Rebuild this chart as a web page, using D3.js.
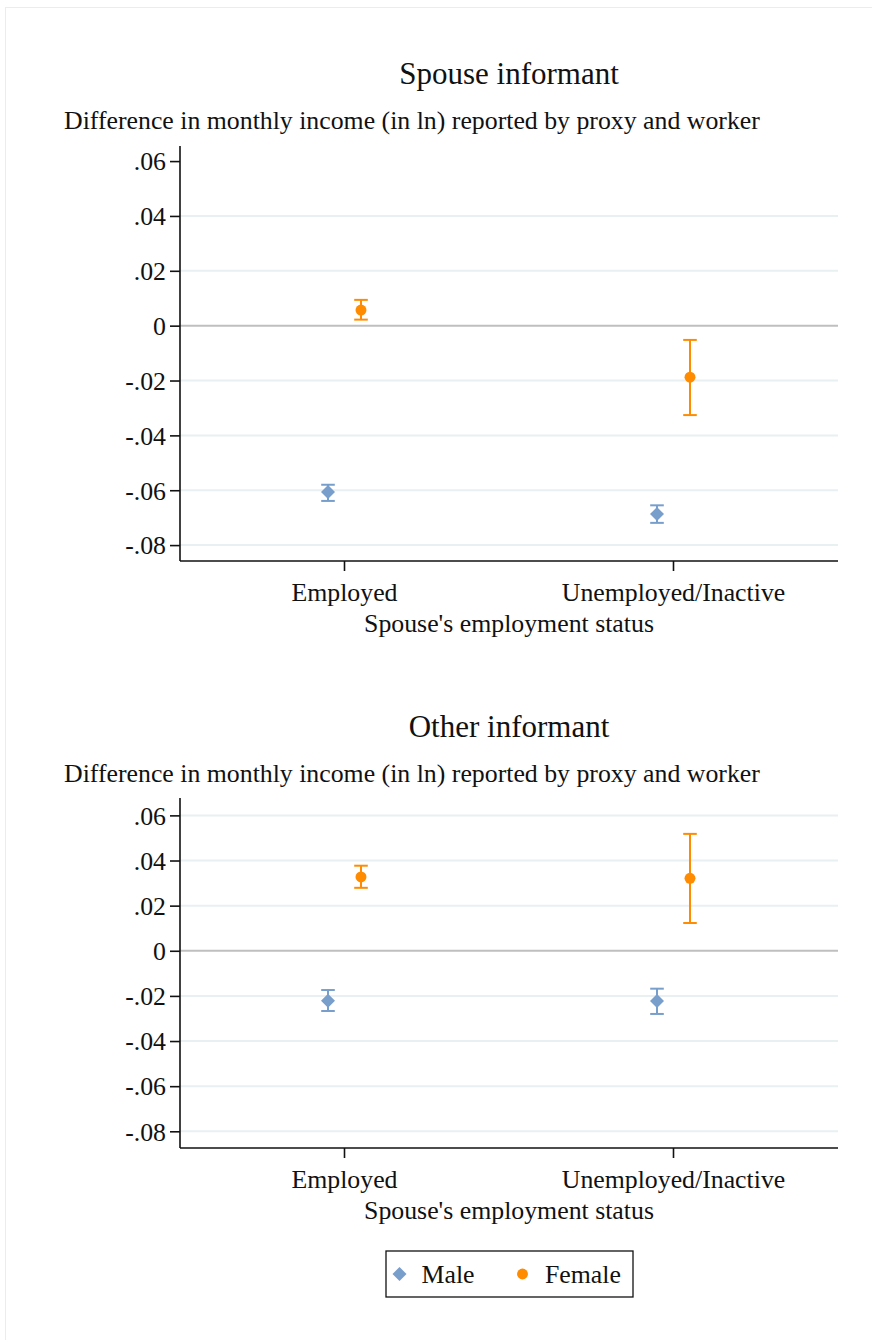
<!DOCTYPE html>
<html>
<head>
<meta charset="utf-8">
<script src="https://cdn.jsdelivr.net/npm/d3@7"></script>
<style>
  body { margin: 0; background: #fff; }
  svg text { font-family: "Liberation Serif", "Times New Roman", serif; fill: #111; }
</style>
</head>
<body>
<div id="chart"></div>
<script>
// categories and series
const categories = ['Employed', 'Unemployed/Inactive'];
const seriesNames = ['Male', 'Female'];
const yTicks = [0.06, 0.04, 0.02, 0, -0.02, -0.04, -0.06, -0.08];

// Spouse informant: point estimate, lower, upper
const spouseMale   = [[-0.0606, -0.0639, -0.0580], [-0.0687, -0.0719, -0.0655]];
const spouseFemale = [[0.0057, 0.0022, 0.0094], [-0.0188, -0.0326, -0.0052]];

// Other informant
const otherMale   = [[-0.0222, -0.0267, -0.0174], [-0.0223, -0.0280, -0.0168]];
const otherFemale = [[0.0327, 0.0279, 0.0377], [0.0321, 0.0123, 0.0518]];

const W = 872, H = 1340;
const colors = { Male: '#789ecc', Female: '#ff8c00' };
const gridColor = '#e8f0f2';
const xLeft = 180, xRight = 838;
const fs = '25.8px';
const yTitle = 'Difference in monthly income (in ln) reported by proxy and worker';
const xTitle = "Spouse's employment status";

const svg = d3.select('#chart').append('svg').attr('width', W).attr('height', H);
svg.append('rect').attr('x', 5.5).attr('y', 7.5).attr('width', W).attr('height', H)
  .attr('fill', 'none').attr('stroke', '#ececec');

const panels = [
  { title: 'Spouse informant', titleY: 84, yTitleY: 129, top: 146, bottom: 561,
    domain: [-0.0858, 0.0655], male: spouseMale, female: spouseFemale, skipTop: true },
  { title: 'Other informant', titleY: 737, yTitleY: 782, top: 798, bottom: 1148,
    domain: [-0.0874, 0.0677], male: otherMale, female: otherFemale, skipTop: false }
];

const fmt = v => v === 0 ? '0' : (v < 0 ? '-' : '') + d3.format('.2f')(Math.abs(v)).replace(/^0\./, '.');

// marker shapes
const diamond = d3.symbol().type(d3.symbolSquare).size(98);
const circle = d3.symbol().type(d3.symbolCircle).size(94);
const markerPath = name => name === 'Male' ? diamond() : circle();
const markerRot = name => name === 'Male' ? ' rotate(45)' : '';

panels.forEach(p => {
  const g = svg.append('g');
  const y = d3.scaleLinear().domain(p.domain).range([p.bottom, p.top]);
  const x = d3.scaleBand().domain(categories).range([xLeft, xRight]);
  const off = d3.scalePoint().domain(seriesNames).range([-16.5, 16.5]);

  g.append('text').attr('x', (xLeft + xRight) / 2).attr('y', p.titleY)
    .attr('text-anchor', 'middle').style('font-size', '31px').text(p.title);
  g.append('text').attr('x', 64).attr('y', p.yTitleY)
    .style('font-size', fs).text(yTitle);

  // gridlines
  g.selectAll('.grid').data(yTicks.filter(t => t !== 0 && !(p.skipTop && t === 0.06)))
    .enter().append('line')
    .attr('x1', xLeft).attr('x2', xRight)
    .attr('y1', d => y(d)).attr('y2', d => y(d))
    .attr('stroke', gridColor).attr('stroke-width', 2);
  g.append('line').attr('x1', xLeft).attr('x2', xRight)
    .attr('y1', y(0)).attr('y2', y(0))
    .attr('stroke', '#bfbfbf').attr('stroke-width', 2);

  // axes
  const yAxis = g.append('g').attr('transform', `translate(${xLeft},0)`)
    .call(d3.axisLeft(y).tickValues(yTicks).tickFormat(fmt).tickSize(10).tickPadding(4));
  const xAxis = g.append('g').attr('transform', `translate(0,${p.bottom})`)
    .call(d3.axisBottom(x).tickSize(10).tickPadding(6));
  [yAxis, xAxis].forEach(a => {
    a.select('.domain').attr('stroke', '#111').attr('stroke-width', 1.6);
    a.selectAll('.tick line').attr('stroke', '#111').attr('stroke-width', 1.6);
    a.selectAll('.tick text').style('font-size', fs).attr('fill', '#111');
  });
  yAxis.select('.domain').attr('d', `M0,${p.top}V${p.bottom}`);
  xAxis.select('.domain').attr('d', `M${xLeft},0H${xRight}`);
  yAxis.selectAll('.tick text').attr('dy', '0.34em');
  xAxis.selectAll('.tick text').attr('dy', '0.92em');

  g.append('text').attr('x', (xLeft + xRight) / 2).attr('y', p.bottom + 71)
    .attr('text-anchor', 'middle').style('font-size', fs).text(xTitle);

  const series = [['Male', p.male], ['Female', p.female]];
  series.forEach(([name, vals]) => {
    const c = colors[name];
    const data = vals.map((v, i) => ({ cat: categories[i], est: v[0], lo: v[1], hi: v[2] }));
    const cx = d => x(d.cat) + x.bandwidth() / 2 + off(name);
    const sg = g.append('g');
    sg.selectAll('.ci').data(data).enter().append('line')
      .attr('x1', cx).attr('x2', cx).attr('y1', d => y(d.lo)).attr('y2', d => y(d.hi))
      .attr('stroke', c).attr('stroke-width', 2);
    ['lo', 'hi'].forEach(k => {
      sg.selectAll('.cap' + k).data(data).enter().append('line')
        .attr('x1', d => cx(d) - 6.8).attr('x2', d => cx(d) + 6.8)
        .attr('y1', d => y(d[k])).attr('y2', d => y(d[k]))
        .attr('stroke', c).attr('stroke-width', 2);
    });
    sg.selectAll('.pt').data(data).enter().append('path')
      .attr('transform', d => `translate(${cx(d)},${y(d.est)})` + markerRot(name))
      .attr('d', markerPath(name)).attr('fill', c);
  });
});

// legend
const lg = svg.append('g');
lg.append('rect').attr('x', 386).attr('y', 1251).attr('width', 247).attr('height', 46)
  .attr('fill', '#fff').attr('stroke', '#111').attr('stroke-width', 1.3);
const legendItems = [
  { name: 'Male', sx: 399.5, tx: 421.5 },
  { name: 'Female', sx: 522.5, tx: 545 }
];
legendItems.forEach(it => {
  lg.append('path').attr('transform', `translate(${it.sx},1274)` + markerRot(it.name))
    .attr('d', markerPath(it.name)).attr('fill', colors[it.name]);
  lg.append('text').attr('x', it.tx).attr('y', 1283).style('font-size', fs).text(it.name);
});
</script>
</body>
</html>
